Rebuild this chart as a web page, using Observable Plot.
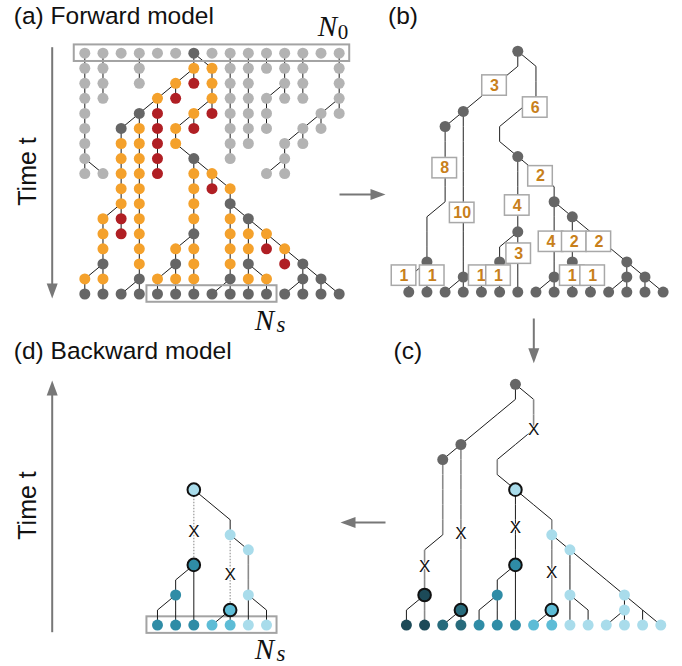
<!DOCTYPE html>
<html><head><meta charset="utf-8">
<script src="https://cdn.jsdelivr.net/npm/d3@7"></script>
<script src="https://cdn.jsdelivr.net/npm/@observablehq/plot@0.6"></script>
<style>body{margin:0;background:#fff}</style>
</head><body><div id="chart"></div>
<script>
// ---------- DATA ----------
// Forward model: one string per generation; tokens "col:parentCol:state"
// state: g = other lineage, o = ancestral, r = extinct offspring, d = coalescence / sample
const generations = [
 "0::g 1::g 2::g 3::g 4::g 5::g 6::d 7::g 8::g 9::g 10::g 11::g 12::g 13::g 14::g",
 "0:0:g 1:1:g 3:3:g 6:6:o 7:6:o 8:8:g 9:9:g 10:10:g 11:11:g 12:12:g 14:14:g",
 "0:0:g 1:1:g 3:3:g 5:6:o 6:6:r 7:7:o 8:8:g 9:9:g 11:11:g 12:12:g 14:14:g",
 "0:0:g 1:1:g 4:5:o 5:5:r 7:7:o 8:8:g 9:9:g 10:11:g 11:11:g 12:12:g 14:14:g",
 "0:0:g 3:4:d 4:4:r 6:7:o 7:7:r 8:8:g 9:9:g 10:10:g 13:14:g 14:14:g",
 "0:0:g 2:3:d 3:3:o 4:4:r 5:6:o 6:6:r 8:8:g 9:9:g 10:10:g 12:13:g 13:13:g",
 "0:0:g 2:2:o 3:3:o 4:4:r 5:5:o 8:8:g 9:9:g 11:12:g 12:12:g",
 "0:0:g 2:2:o 3:3:o 4:4:r 6:5:d 8:8:g 11:11:g",
 "0:0:g 1:0:g 2:2:o 3:3:o 4:4:r 6:6:o 7:6:o 10:11:g 11:11:g",
 "2:2:o 3:3:o 6:6:o 7:7:r 8:7:o",
 "2:2:o 3:3:o 6:6:o 8:8:d",
 "1:2:o 2:2:r 3:3:o 6:6:o 8:8:o 9:8:d",
 "1:1:o 2:2:r 3:3:o 6:6:d 8:8:o 9:9:o 10:9:o",
 "1:1:o 3:3:o 5:6:o 6:6:o 8:8:o 9:9:o 10:10:r 11:10:o",
 "1:1:d 3:3:o 5:5:d 6:6:o 8:8:o 9:9:d 11:11:r 12:11:d",
 "0:1:o 1:1:o 3:3:d 4:5:o 5:5:o 6:6:o 8:8:d 9:9:o 10:9:o 12:12:d 13:12:d",
 "0:0:d 1:1:d 2:3:d 3:3:d 4:4:d 5:5:d 6:6:d 7:8:d 8:8:d 9:9:d 10:10:d 11:12:d 12:12:d 13:13:d 14:13:d"
];
const sampledCols = [4, 5, 6, 7, 8, 9, 10];

// (b) number of unobserved ancestors per branch, and where the label sits (col,row)
const boxLabels = ["3","6","8","10","4","2","4","2","2","3","1","1","1","1","1","1"];
const boxCols = [4.72, 6.96, 1.98, 2.94, 5.97, 7.25, 7.83, 9.11, 10.46, 6.05, -0.26, 1.29, 3.99, 4.94, 9.0, 10.12];
const boxRows = [2.28, 3.74, 7.77, 10.74, 10.25, 8.31, 12.66, 12.66, 12.66, 13.45, 14.91, 14.91, 14.91, 14.91, 14.91, 14.91];

// (c) clades of the sampled leaves and internal nodes [col,row,clade(-1 none),marked]
const leafClade = [0, 0, 1, 1, 2, 2, 2, 3, 3, 4, 4, 4, 4, 4, 4];
const cladeColor = ["#1c4a58", "#276b7c", "#2f8ca6", "#5dbcd6", "#a9dceb"];
const cInternal = [
 [6,0,-1,0],[3,4,-1,0],[2,5,-1,0],[6,7,4,1],[8,10,4,0],[9,11,4,0],[6,12,2,1],
 [5,14,2,0],[1,14,0,1],[9,14,4,0],[12,14,4,0],[3,15,1,1],[8,15,3,1],[12,15,4,0]
];
const cMutCols = [7, 3, 6, 1, 8];
const cMutRows = [3.0, 9.93, 9.5, 12.1, 12.5];
const cGrayRuns = [[7,0,3],[5,4,6],[2,4,10],[1,10,16],[3,3,16],[8,9,16]];
// (d) backward model sub-tree
const dRootNode = [6, 7];
const dDottedRuns = [[6,7,12],[8,10,15]];
const dMutCols = [6, 8];
const dMutRows = [9.78, 12.66];

// ---------- LAYOUT ----------
const W = 682, H = 666;
const X0 = 84.3, DX = 18.17, Y0 = 52.7, DY = 15.05;
const off = {a:[0,0], b:[17.83,-0.13], c:[17.7,22], d:[0,22]};
const FONT = "Liberation Sans, Arial, Helvetica, sans-serif";
const SERIF = "Liberation Serif, Times New Roman, serif";
const stateColor = {g:"#b3b3b3", d:"#666666", o:"#f4a12c", r:"#b01f24"};
const ARROW = "#777777";

// ---------- BUILD ----------
const nodes = [];
generations.forEach((g, row) => g.split(" ").forEach(tok => {
  const [c, p, s] = tok.split(":");
  nodes.push({row, col: +c, parent: p === "" ? null : +p, state: s});
}));
const edges = nodes.filter(n => n.parent !== null)
  .map(n => ({x1: n.parent, y1: n.row - 1, x2: n.col, y2: n.row, child: n}));
const treeEdges = edges.filter(e => e.child.state === "o" || e.child.state === "d");

const sp = (p, o) => ({...o, x: o.x + off[p][0], y: o.y + off[p][1]});
const sl = (p, e) => ({...e, x1: e.x1 + off[p][0], x2: e.x2 + off[p][0], y1: e.y1 + off[p][1], y2: e.y2 + off[p][1]});
const inRun = (e, runs) => runs.some(([c, r0, r1]) => e.x1 === c && e.x2 === c && e.y1 >= r0 && e.y2 <= r1);
const last = generations.length - 1;

// (a)
const aEdges = edges.map(e => sl("a", e));
const aNodes = nodes.map(n => sp("a", {x: n.col, y: n.row, state: n.state}));
const frameBoxes = [
  sp("a", {x: 0, y: 0}),
  sp("a", {x: sampledCols[0], y: last}),
  sp("d", {x: sampledCols[0], y: last})
];
frameBoxes[0].x2 = frameBoxes[0].x + 14;
frameBoxes[1].x2 = frameBoxes[1].x + sampledCols.length - 1;
frameBoxes[2].x2 = frameBoxes[2].x + sampledCols.length - 1;

// (b)
const bEdges = treeEdges.map(e => sl("b", e));
const bNodes = nodes.filter(n => n.state === "d").map(n => sp("b", {x: n.col, y: n.row}));
const bBoxes = boxLabels.map((t, i) => sp("b", {x: boxCols[i], y: boxRows[i], t}));

// (c)
const cEdges = treeEdges.map(e => sl("c", {...e, gray: inRun(e, cGrayRuns)}));
const cNodesRaw = cInternal.map(([col, row, k, m]) => ({x: col, y: row, k, m}))
  .concat(leafClade.map((k, col) => ({x: col, y: last, k, m: 0})));
const cNodes = cNodesRaw.map(n => sp("c", n));
const cMut = cMutCols.map((c, i) => sp("c", {x: c, y: cMutRows[i]}));

// (d) genealogy of the sampled individuals up to their common ancestor
const parentEdge = new Map(treeEdges.map(e => [e.x2 + "," + e.y2, e]));
const rootKey = dRootNode.join(",");
const dSet = new Set([rootKey]); const dTree = new Set();
sampledCols.forEach(c => {
  let k = c + "," + last;
  while (k !== rootKey && parentEdge.has(k)) { dSet.add(k); const e = parentEdge.get(k); dTree.add(e); k = e.x1 + "," + e.y1; }
});
const dEdges = [...dTree].map(e => sl("d", {...e, dotted: inRun(e, dDottedRuns), gray: inRun(e, [[9,11,14]])}));
const dNodes = cNodesRaw.filter(n => dSet.has(n.x + "," + n.y)).map(n => sp("d", n));
const dMut = dMutCols.map((c, i) => sp("d", {x: c, y: dMutRows[i]}));

// annotations in absolute grid units
const col = px => (px - X0) / DX, row = py => (py - Y0) / DY;
const titles = [
  {x: col(13.3), y: row(23), t: "(a) Forward model"},
  {x: col(387.5), y: row(23), t: "(b)"},
  {x: col(393), y: row(358.5), t: "(c)"},
  {x: col(13.3), y: row(358.5), t: "(d) Backward model"}
];
const timeLabels = [{x: col(35), y: row(171), t: "Time t"}, {x: col(35), y: row(505), t: "Time t"}];
const arrows = [
  {x1: col(51.7), y1: row(46.7), x2: col(51.7), y2: row(298), dir: "down"},
  {x1: col(51.7), y1: row(631.7), x2: col(51.7), y2: row(380), dir: "up"},
  {x1: col(339), y1: row(194), x2: col(385), y2: row(194), dir: "right"},
  {x1: col(533.3), y1: row(318), x2: col(533.3), y2: row(362.7), dir: "down"},
  {x1: col(385), y1: row(522), x2: col(340), y2: row(522), dir: "left"}
];
const nMain = [
  {x: col(327), y: row(35), t: "N"},
  {x: col(264), y: row(329.5), t: "N"},
  {x: col(264), y: row(658.5), t: "N"}
];
const nSub0 = [{x: col(342.5), y: row(38.5), t: "0"}];
const nSubS = [{x: col(280.5), y: row(331), t: "s"}, {x: col(280.5), y: row(660), t: "s"}];

function head(dir) {
  const L = 15, w = 5.5;
  const pts = {up: [[0,0],[w,L],[-w,L]], down: [[0,0],[w,-L],[-w,-L]],
               right: [[0,0],[-L,w],[-L,-w]], left: [[0,0],[L,w],[L,-w]]}[dir];
  return {draw(ctx) { ctx.moveTo(...pts[0]); ctx.lineTo(...pts[1]); ctx.lineTo(...pts[2]); ctx.closePath(); }};
}
const shaftEnd = a => {
  const back = 8; const dx = a.dir === "right" ? -back / DX : a.dir === "left" ? back / DX : 0;
  const dy = a.dir === "down" ? -back / DY : a.dir === "up" ? back / DY : 0;
  return {...a, x2: a.x2 + dx, y2: a.y2 + dy};
};

const BW = 12.3 / DX, BH = 10.2 / DY, FW = 0.58;
const marks = [
  // (a)
  Plot.link(aEdges, {x1: "x1", y1: "y1", x2: "x2", y2: "y2", stroke: "#1a1a1a", strokeWidth: 1}),
  Plot.dot(aNodes, {x: "x", y: "y", r: 5.5, fill: d => stateColor[d.state], stroke: "none"}),
  Plot.rect(frameBoxes, {x1: d => d.x - FW, x2: d => d.x2 + FW, y1: d => d.y - 0.55, y2: d => d.y + 0.55, fill: "none", stroke: "#a3a3a3", strokeWidth: 2}),
  // (b)
  Plot.link(bEdges, {x1: "x1", y1: "y1", x2: "x2", y2: "y2", stroke: "#222", strokeWidth: 1}),
  Plot.dot(bNodes, {x: "x", y: "y", r: 5.5, fill: "#666666", stroke: "none"}),
  Plot.rect(bBoxes, {x1: d => d.x - BW, x2: d => d.x + BW, y1: d => d.y - BH, y2: d => d.y + BH, fill: "white", stroke: "#a8a8a8", strokeWidth: 1.5}),
  Plot.text(bBoxes, {x: "x", y: "y", text: "t", fill: "#c8801b", fontWeight: "bold", fontSize: 16, fontFamily: FONT, lineAnchor: "middle"}),
  // (c)
  Plot.link(cEdges, {x1: "x1", y1: "y1", x2: "x2", y2: "y2", stroke: d => d.gray ? "#8a8a8a" : "#1a1a1a", strokeWidth: d => d.gray ? 1.6 : 1}),
  Plot.dot(cNodes, {x: "x", y: "y", r: d => d.m ? 6.3 : 5.5, fill: d => d.k < 0 ? "#666666" : cladeColor[d.k], stroke: d => d.m ? "#111" : "none", strokeWidth: 2}),
  Plot.text(cMut, {x: "x", y: "y", text: () => "X", fontSize: 17, fontFamily: FONT, fill: "#111", stroke: "white", strokeWidth: 1.5, paintOrder: "stroke", lineAnchor: "middle"}),
  // (d)
  Plot.link(dEdges.filter(d => !d.dotted), {x1: "x1", y1: "y1", x2: "x2", y2: "y2", stroke: d => d.gray ? "#8a8a8a" : "#1a1a1a", strokeWidth: d => d.gray ? 1.6 : 1}),
  Plot.link(dEdges.filter(d => d.dotted), {x1: "x1", y1: "y1", x2: "x2", y2: "y2", stroke: "#999", strokeWidth: 1.2, strokeDasharray: "1.5,1.5"}),
  Plot.dot(dNodes, {x: "x", y: "y", r: d => d.m ? 6.3 : 5.5, fill: d => cladeColor[d.k], stroke: d => d.m ? "#111" : "none", strokeWidth: 2}),
  Plot.text(dMut, {x: "x", y: "y", text: () => "X", fontSize: 17, fontFamily: FONT, fill: "#111", stroke: "white", strokeWidth: 2, paintOrder: "stroke", lineAnchor: "middle"}),
  // annotations
  Plot.text(titles, {x: "x", y: "y", text: "t", textAnchor: "start", lineAnchor: "bottom", fontSize: 24.5, fontFamily: FONT, fill: "#111"}),
  Plot.text(timeLabels, {x: "x", y: "y", text: "t", rotate: -90, textAnchor: "middle", lineAnchor: "bottom", fontSize: 25, fontFamily: FONT, fill: "#111"}),
  Plot.link(arrows.map(shaftEnd), {x1: "x1", y1: "y1", x2: "x2", y2: "y2", stroke: ARROW, strokeWidth: 2}),
  ...arrows.map(a => Plot.dot([a], {x: "x2", y: "y2", symbol: head(a.dir), fill: ARROW, stroke: "none", r: 5})),
  Plot.text(nMain, {x: "x", y: "y", text: "t", fontStyle: "italic", fontSize: 29, fontFamily: SERIF, lineAnchor: "bottom", fill: "#111"}),
  Plot.text(nSub0, {x: "x", y: "y", text: "t", fontSize: 21, fontFamily: SERIF, lineAnchor: "bottom", fill: "#111"}),
  Plot.text(nSubS, {x: "x", y: "y", text: "t", fontStyle: "italic", fontSize: 23, fontFamily: SERIF, lineAnchor: "bottom", fill: "#111"})
];

const chart = Plot.plot({
  width: W, height: H, margin: 0,
  x: {domain: [col(0), col(W)], range: [0, W], axis: null},
  y: {domain: [row(0), row(H)], range: [0, H], axis: null},
  r: {type: "identity"},
  style: {background: "white", fontFamily: FONT, overflow: "visible"},
  marks
});
document.getElementById("chart").appendChild(chart);
</script>
</body></html>
